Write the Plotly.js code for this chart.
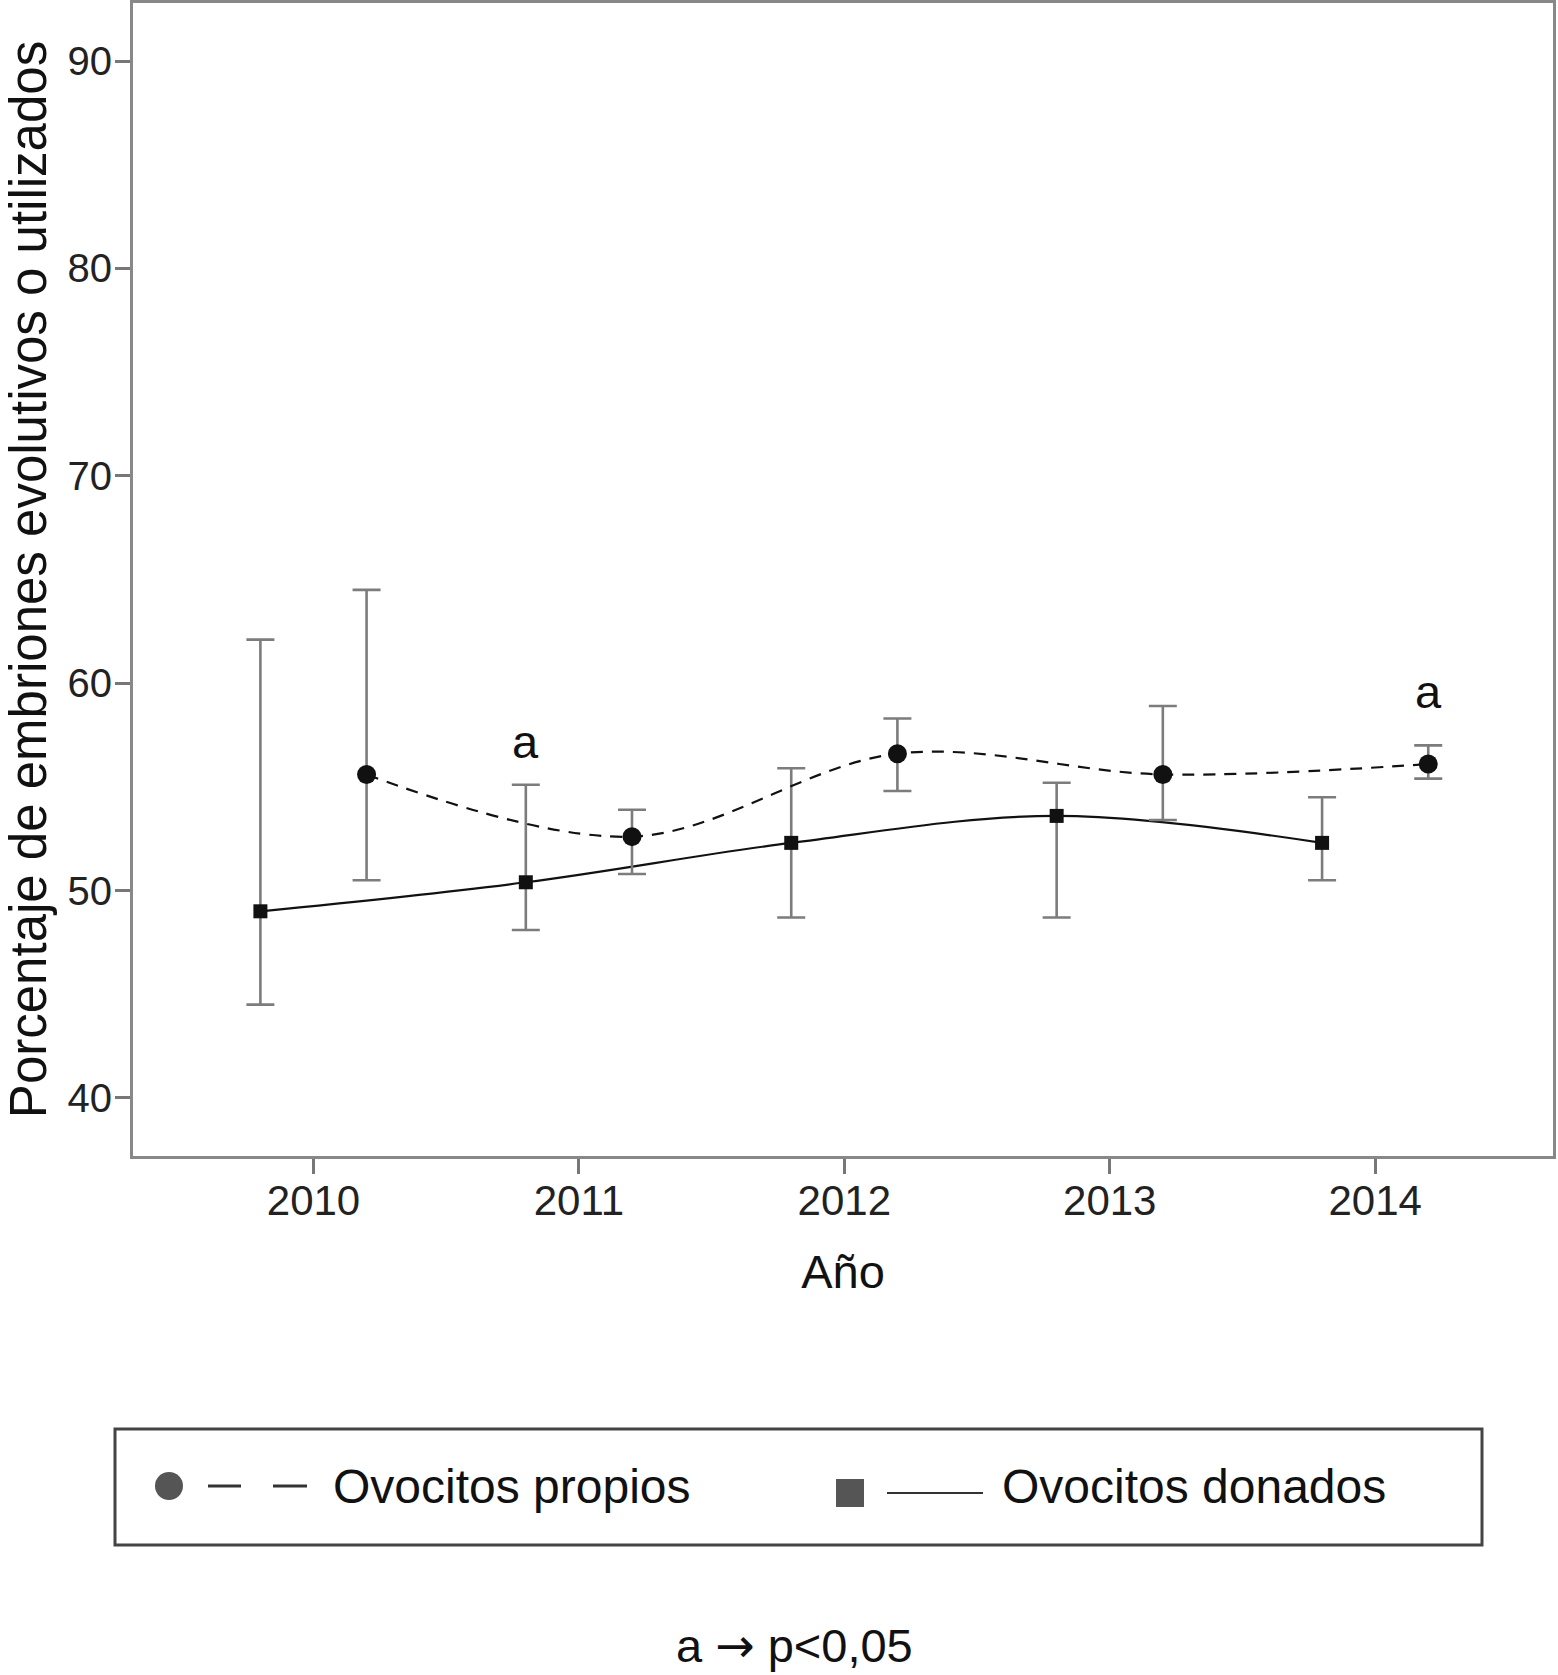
<!DOCTYPE html>
<html>
<head>
<meta charset="utf-8">
<script src="https://cdn.plot.ly/plotly-3.0.1.min.js"></script>
<style>
  html, body { margin: 0; padding: 0; background: #fff; }
  #chart { width: 1558px; height: 1675px; }
</style>
</head>
<body>
<div id="chart"></div>
<script>
// ---- data ----
const years = [2010, 2011, 2012, 2013, 2014];
const xTickLabels = ['2010', '2011', '2012', '2013', '2014'];
const yTickValues = [40, 50, 60, 70, 80, 90];

const propiosName = 'Ovocitos propios';
const propiosMean  = [55.6, 52.6, 56.6, 55.6, 56.1];
const propiosUpper = [64.5, 53.9, 58.3, 58.9, 57.0];
const propiosLower = [50.5, 50.8, 54.8, 53.4, 55.4];

const donadosName = 'Ovocitos donados';
const donadosMean  = [49.0, 50.4, 52.3, 53.6, 52.3];
const donadosUpper = [62.1, 55.1, 55.9, 55.2, 54.5];
const donadosLower = [44.5, 48.1, 48.7, 48.7, 50.5];

// significance marks: [year, group, label y]
const sigYears  = [2011, 2014];
const sigGroups = ['donados', 'propios'];
const sigY      = [57.2, 59.6];
const sigLabel  = 'a';

// ---- layout helpers ----
const FONT = '"Liberation Sans", Arial, Helvetica, sans-serif';
const dodge = 0.2;
const W = 1558, H = 1675;
const M = { l: 133, r: 5, t: 3, b: 519 };
const pw = W - M.l - M.r, ph = H - M.t - M.b;
const px = v => (v - M.l) / pw;          // pixel x -> paper
const py = v => (H - M.b - v) / ph;      // pixel y -> paper

const xs = (arr, off) => arr.map(y => y + off);
const plus  = (up, m) => up.map((u, i) => +(u - m[i]).toFixed(3));
const minus = (lo, m) => lo.map((l, i) => +(m[i] - l).toFixed(3));

const errStyle = { type: 'data', symmetric: false, color: '#7c7c7c', thickness: 2.6, width: 14 };

const traces = [
  {
    name: donadosName, type: 'scatter', mode: 'lines+markers',
    x: xs(years, -dodge), y: donadosMean,
    line: { color: '#111', width: 2.2, shape: 'spline', smoothing: 1 },
    marker: { symbol: 'square', size: 14, color: '#111' },
    error_y: Object.assign({ array: plus(donadosUpper, donadosMean), arrayminus: minus(donadosLower, donadosMean) }, errStyle),
    showlegend: false
  },
  {
    name: propiosName, type: 'scatter', mode: 'lines+markers',
    x: xs(years, dodge), y: propiosMean,
    line: { color: '#111', width: 2.2, shape: 'spline', smoothing: 1, dash: '12px,9px' },
    marker: { symbol: 'circle', size: 19, color: '#111' },
    error_y: Object.assign({ array: plus(propiosUpper, propiosMean), arrayminus: minus(propiosLower, propiosMean) }, errStyle),
    showlegend: false
  }
];

const annotations = sigYears.map((yr, i) => ({
  x: yr + (sigGroups[i] === 'donados' ? -dodge : dodge), y: sigY[i],
  xref: 'x', yref: 'y', text: sigLabel, showarrow: false,
  font: { family: FONT, size: 47, color: '#111' }
}));

// custom legend (box, symbols, text)
const legendY = 1486;
annotations.push(
  { xref: 'paper', yref: 'paper', x: px(331), y: py(legendY), xanchor: 'left', yanchor: 'middle',
    text: propiosName, showarrow: false, font: { family: FONT, size: 48, color: '#111' } },
  { xref: 'paper', yref: 'paper', x: px(1000), y: py(legendY), xanchor: 'left', yanchor: 'middle',
    text: donadosName, showarrow: false, font: { family: FONT, size: 48, color: '#111' } },
  { xref: 'paper', yref: 'paper', x: px(794), y: py(1646), xanchor: 'center', yanchor: 'middle',
    text: 'a <span style="font-family:\'DejaVu Sans\'">\u2192</span> p<0,05', showarrow: false,
    font: { family: FONT, size: 47, color: '#111' } }
);

const shapes = [
  { type: 'rect', xref: 'paper', yref: 'paper', x0: px(115), x1: px(1482), y0: py(1429), y1: py(1545),
    line: { color: '#444', width: 3 }, fillcolor: 'rgba(0,0,0,0)' },
  { type: 'circle', xref: 'paper', yref: 'paper', x0: px(155), x1: px(183), y0: py(1472), y1: py(1500),
    line: { color: '#555', width: 0 }, fillcolor: '#555' },
  { type: 'line', xref: 'paper', yref: 'paper', x0: px(208), x1: px(241), y0: py(legendY), y1: py(legendY),
    line: { color: '#333', width: 3 } },
  { type: 'line', xref: 'paper', yref: 'paper', x0: px(273), x1: px(307), y0: py(legendY), y1: py(legendY),
    line: { color: '#333', width: 3 } },
  { type: 'rect', xref: 'paper', yref: 'paper', x0: px(836), x1: px(864), y0: py(1479), y1: py(1507),
    line: { color: '#555', width: 0 }, fillcolor: '#555' },
  { type: 'line', xref: 'paper', yref: 'paper', x0: px(887), x1: px(983), y0: py(1493), y1: py(1493),
    line: { color: '#333', width: 2.2 } }
];

const layout = {
  width: W, height: H,
  margin: M,
  paper_bgcolor: '#fff', plot_bgcolor: '#fff',
  font: { family: FONT, color: '#111' },
  showlegend: false,
  xaxis: {
    range: [2009.32, 2014.67],
    tickmode: 'array', tickvals: years, ticktext: xTickLabels,
    ticks: 'outside', ticklen: 15, tickwidth: 3, tickcolor: '#777',
    ticklabelstandoff: -9,
    showline: true, linecolor: '#888', linewidth: 3, mirror: true,
    showgrid: false, zeroline: false,
    tickfont: { family: FONT, size: 42, color: '#222' },
    title: { text: 'Año', font: { family: FONT, size: 47, color: '#111' }, standoff: 32 }
  },
  yaxis: {
    range: [37.2, 92.8],
    tickmode: 'array', tickvals: yTickValues, ticktext: yTickValues.map(String),
    ticks: 'outside', ticklen: 15, tickwidth: 3, tickcolor: '#777',
    ticklabelstandoff: -5,
    showline: true, linecolor: '#888', linewidth: 3, mirror: true,
    showgrid: false, zeroline: false,
    tickfont: { family: FONT, size: 40, color: '#222' },
    title: { text: 'Porcentaje de embriones evolutivos o utilizados', font: { family: FONT, size: 51, color: '#111' }, standoff: 14 }
  },
  annotations: annotations,
  shapes: shapes
};

Plotly.newPlot('chart', traces, layout, { displayModeBar: false, staticPlot: true });
</script>
</body>
</html>
